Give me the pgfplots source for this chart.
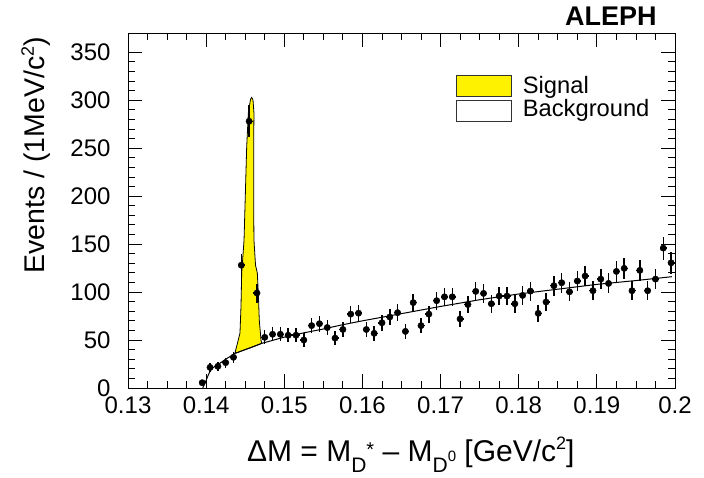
\documentclass[border=0pt]{standalone}
\usepackage{fontspec}
\setmainfont{Liberation Sans}
\usepackage{pgfplots}
\usepackage{pgfplotstable}
\pgfplotsset{compat=1.18}

% data points: bin centre, events, x half-width, y error (sqrt N)
\pgfplotstableread{
x       y      ex       ey
0.1395  5.5    0.00045  2.3
0.1405  21.5   0.00045  4.6
0.1415  22.6   0.00045  4.8
0.1425  26.4   0.00045  5.1
0.1435  32     0.00045  5.7
0.1445  128    0.00045  11.3
0.1455  278    0.00045  16.7
0.1465  99     0.00045  9.9
0.1475  52.8   0.00045  7.3
0.1485  56     0.00045  7.5
0.1495  56     0.00045  7.5
0.1505  55     0.00045  7.4
0.1515  55     0.00045  7.4
0.1525  50     0.00045  7.1
0.1535  65     0.00045  8.1
0.1545  67     0.00045  8.2
0.1555  63     0.00045  7.9
0.1565  52     0.00045  7.2
0.1575  61     0.00045  7.8
0.1585  77     0.00045  8.8
0.1595  78     0.00045  8.8
0.1605  61     0.00045  7.8
0.1615  57     0.00045  7.5
0.1625  68     0.00045  8.2
0.1635  74     0.00045  8.6
0.1645  78.5   0.00045  8.9
0.1655  59     0.00045  7.7
0.1665  89     0.00045  9.4
0.1675  65     0.00045  8.1
0.1685  77     0.00045  8.8
0.1695  91     0.00045  9.5
0.1705  95     0.00045  9.7
0.1715  95     0.00045  9.7
0.1725  72     0.00045  8.5
0.1735  87     0.00045  9.3
0.1745  100.7  0.00045  10.0
0.1755  98.6   0.00045  9.9
0.1765  87.8   0.00045  9.4
0.1775  95.8   0.00045  9.8
0.1785  95.8   0.00045  9.8
0.1795  87.8   0.00045  9.4
0.1805  96.5   0.00045  9.8
0.1815  101    0.00045  10.0
0.1825  77.8   0.00045  8.8
0.1835  89.6   0.00045  9.5
0.1845  106.6  0.00045  10.3
0.1855  109.7  0.00045  10.5
0.1865  100.3  0.00045  10.0
0.1875  111.5  0.00045  10.6
0.1885  116.7  0.00045  10.8
0.1895  101.4  0.00045  10.1
0.1905  113.5  0.00045  10.7
0.1915  109    0.00045  10.4
0.1925  121.5  0.00045  11.0
0.1935  124.7  0.00045  11.2
0.1945  101.4  0.00045  10.1
0.1955  122.6  0.00045  11.1
0.1965  101.4  0.00045  10.1
0.1975  113.5  0.00045  10.7
0.1985  145.8  0.00045  12.1
0.1995  130.5  0.00045  11.4
}\datatable

% background fit curve
\pgfplotstableread{
x        y
0.13957  0
0.1397   2.5
0.1399   6
0.1401   10
0.1403   14
0.1405   17.5
0.1408   20.5
0.1412   23
0.1418   26
0.1425   30
0.1432   33.5
0.1437   36
0.1440   37
0.1450   40
0.1460   43
0.1471   46.5
0.1480   48.5
0.1500   53
0.1525   57.5
0.1550   61.5
0.1575   66
0.1600   70
0.1650   77.5
0.1700   85
0.1750   92
0.1800   98
0.1850   103
0.1900   108
0.1950   112
0.1996   116
}\bkgtable

% signal region: total curve, then background back to the start
\pgfplotstableread{
x        y
0.14369  36.5
0.14433  57.3
0.14446  84.7
0.14455  119.8
0.14485  154.2
0.14519  251.4
0.14540  286.5
0.14568  301
0.14583  302.8
0.14600  300
0.14612  286.5
0.14608  251.4
0.14608  196
0.14612  154
0.14632  128
0.14655  119.8
0.14668  98.6
0.14680  70.8
0.14702  50
0.14711  46.5
0.14600  43
0.14500  40
0.14400  37
0.14369  36.5
}\sigtable

\begin{document}
\begin{tikzpicture}
\useasboundingbox (-128pt,-89pt) rectangle (576pt,388pt);
\begin{axis}[
  at={(0pt,0pt)}, anchor=south west,
  scale only axis, width=547pt, height=355pt,
  xmin=0.13, xmax=0.2, ymin=0, ymax=370,
  clip mode=individual,
  xtick={0.13,0.14,0.15,0.16,0.17,0.18,0.19,0.2},
  xticklabels={0.13,0.14,0.15,0.16,0.17,0.18,0.19,0.2},
  minor x tick num=3,
  ytick={0,50,100,150,200,250,300,350},
  minor y tick num=4,
  tick align=inside, tick pos=both,
  major tick length=14pt, minor tick length=7pt,
  every tick/.style={black, line width=0.8pt},
  axis line style={line width=0.9pt},
  /pgf/number format/assume math mode=true,
  ticklabel style={font=\fontsize{24}{28}\selectfont},
  yticklabel style={xshift=-14pt},
  xticklabel style={yshift=-5pt},
  xlabel={ΔM = M\raisebox{-11pt}{\fontsize{21}{21}\selectfont D}\raisebox{5pt}{\fontsize{20}{20}\selectfont *} – M\raisebox{-11pt}{\fontsize{21}{21}\selectfont D}{\fontsize{15}{15}\selectfont 0} [GeV/c\raisebox{11.5pt}{\fontsize{18}{18}\selectfont 2}]},
  xlabel style={at={(axis description cs:0.517,-0.206)}, anchor=base, inner sep=0pt, font=\fontsize{30}{34}\selectfont},
  ylabel={Events / (1MeV/c\raisebox{11pt}{\fontsize{18}{18}\selectfont 2})},
  ylabel style={at={(axis description cs:-0.141,0.989)}, anchor=south east, inner sep=0pt, font=\fontsize{28.5}{34}\selectfont},
]
\addplot[fill=yellow, draw=black, line width=0.8pt] table[x=x,y=y] {\sigtable} -- cycle;
\addplot[black, line width=1pt, no marks] table[x=x,y=y] {\bkgtable};
\addplot[black, only marks, mark=*, mark size=3.2pt,
  error bars/.cd, x dir=both, x explicit, y dir=both, y explicit,
  error bar style={line width=1.5pt, black}, error mark=none]
  table[x=x, y=y, x error=ex, y error=ey] {\datatable};

% legend
\draw[fill=yellow, draw=black!80, line width=0.8pt] (axis description cs:0.601,0.8225) rectangle (axis description cs:0.701,0.8817);
\draw[fill=white, draw=black!80, line width=0.8pt] (axis description cs:0.601,0.7501) rectangle (axis description cs:0.701,0.8093);
\node[anchor=base west, inner sep=0pt, font=\fontsize{23.7}{28}\selectfont] at (axis description cs:0.7216,0.8282) {Signal};
\node[anchor=base west, inner sep=0pt, font=\fontsize{23.7}{28}\selectfont] at (axis description cs:0.7216,0.7642) {Background};
\node[anchor=base east, inner sep=0pt, font=\bfseries\fontsize{27}{32}\selectfont] at (axis description cs:0.967,1.0225) {ALEPH};
\end{axis}
\end{tikzpicture}
\end{document}
